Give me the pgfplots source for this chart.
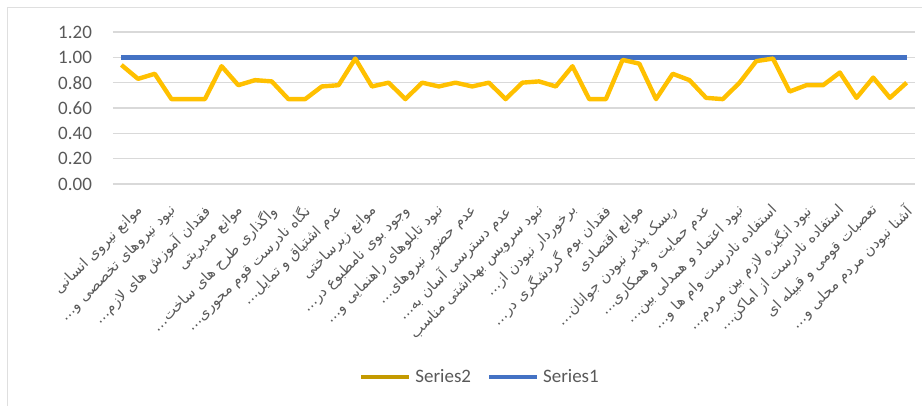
\documentclass[border=0pt]{standalone}
\usepackage{pgfplots}
\pgfplotsset{compat=1.18}
\usepackage{pgfplotstable}
\usepackage{fontspec}
\setmainfont{Carlito}
\newfontfamily\arabicfont[Script=Arabic]{DejaVu Sans}
\TeXXeTstate=1
\definecolor{sone}{HTML}{4472C4}
\definecolor{stwo}{HTML}{FFC000}
\definecolor{stwoleg}{HTML}{C49A00}
\definecolor{gridc}{HTML}{D9D9D9}
\definecolor{txt}{HTML}{595959}

\pgfplotstableread{
x s1 s2
0 1.00 0.94
1 1.00 0.83
2 1.00 0.87
3 1.00 0.67
4 1.00 0.67
5 1.00 0.67
6 1.00 0.93
7 1.00 0.78
8 1.00 0.82
9 1.00 0.81
10 1.00 0.67
11 1.00 0.67
12 1.00 0.77
13 1.00 0.78
14 1.00 0.99
15 1.00 0.77
16 1.00 0.80
17 1.00 0.67
18 1.00 0.80
19 1.00 0.77
20 1.00 0.80
21 1.00 0.77
22 1.00 0.80
23 1.00 0.67
24 1.00 0.80
25 1.00 0.81
26 1.00 0.77
27 1.00 0.93
28 1.00 0.67
29 1.00 0.67
30 1.00 0.98
31 1.00 0.95
32 1.00 0.67
33 1.00 0.87
34 1.00 0.82
35 1.00 0.68
36 1.00 0.67
37 1.00 0.80
38 1.00 0.97
39 1.00 0.99
40 1.00 0.73
41 1.00 0.78
42 1.00 0.78
43 1.00 0.88
44 1.00 0.68
45 1.00 0.84
46 1.00 0.68
47 1.00 0.80
}\data

\begin{document}
\begin{tikzpicture}
\useasboundingbox (0,0) rectangle (461pt,203pt);
\draw[gray!25, line width=0.5pt] (3.5pt,-5pt) -- (3.5pt,199pt) -- (470pt,199pt);
\begin{axis}[
  at={(56.5pt,111pt)}, anchor=south west,
  scale only axis, width=401pt, height=76pt,
  xmin=-0.5, xmax=47.5, ymin=0, ymax=1.2,
  ytick={0,0.2,0.4,0.6,0.8,1.0,1.2},
  yticklabel style={/pgf/number format/fixed, /pgf/number format/fixed zerofill,
    /pgf/number format/precision=2, /pgf/number format/assume math mode=true,
    font=\fontsize{9.5}{11}\selectfont, text=txt, xshift=-7pt},
  ymajorgrids, grid style={draw=gridc, line width=0.6pt},
  axis line style={draw=none},
  major tick length=0pt,
  xtick={0,2,...,46},
  xticklabels={
    {\arabicfont\beginR موانع نیروی انسانی\endR},
    {\arabicfont\beginR نبود نیروهای تخصصی و…\endR},
    {\arabicfont\beginR فقدان آموزش های لازم…\endR},
    {\arabicfont\beginR موانع مدیریتی\endR},
    {\arabicfont\beginR واگذاری طرح های ساخت…\endR},
    {\arabicfont\beginR نگاه نادرست قوم محوری…\endR},
    {\arabicfont\beginR عدم اشتیاق و تمایل…\endR},
    {\arabicfont\beginR موانع زیرساختی\endR},
    {\arabicfont\beginR وجود بوی نامطبوع در…\endR},
    {\arabicfont\beginR نبود تابلوهای راهنمایی و…\endR},
    {\arabicfont\beginR عدم حضور نیروهای…\endR},
    {\arabicfont\beginR عدم دسترسی آسان به…\endR},
    {\arabicfont\beginR نبود سرویس بهداشتی مناسب\endR},
    {\arabicfont\beginR برخوردار نبودن از…\endR},
    {\arabicfont\beginR فقدان بوم گردشگری در…\endR},
    {\arabicfont\beginR موانع اقتصادی\endR},
    {\arabicfont\beginR ریسک پذیر نبودن جوانان…\endR},
    {\arabicfont\beginR عدم حمایت و همکاری…\endR},
    {\arabicfont\beginR نبود اعتماد و همدلی بین…\endR},
    {\arabicfont\beginR استفاده نادرست وام ها و…\endR},
    {\arabicfont\beginR نبود انگیزه لازم بین مردم…\endR},
    {\arabicfont\beginR استفاده نادرست از اماکن…\endR},
    {\arabicfont\beginR تعصبات قومی و قبیله ای\endR},
    {\arabicfont\beginR آشنا نبودن مردم محلی و…\endR}},
  xticklabel style={rotate=45, anchor=north east, font=\fontsize{7.3}{8}\selectfont,
    text=txt, xshift=1.5pt, yshift=-8pt},
  legend style={at={(0.459,-1.27)}, anchor=center, draw=none, fill=none,
    legend columns=2, font=\fontsize{9.5}{11}\selectfont, text=txt,
    /tikz/every even column/.append style={column sep=6pt}},
  legend cell align=left,
  legend image code/.code={\draw[#1] (0pt,0pt) -- (24pt,0pt);},
  clip=false,
]
\addplot[sone, line width=2.4pt, forget plot] table[x=x, y=s1] {\data};
\addplot[stwo, line width=2.2pt, line join=round, forget plot] table[x=x, y=s2] {\data};
\addlegendimage{stwoleg, line width=2pt}
\addlegendentry{Series2}
\addlegendimage{sone, line width=2pt}
\addlegendentry{Series1}
\end{axis}
\end{tikzpicture}
\end{document}
